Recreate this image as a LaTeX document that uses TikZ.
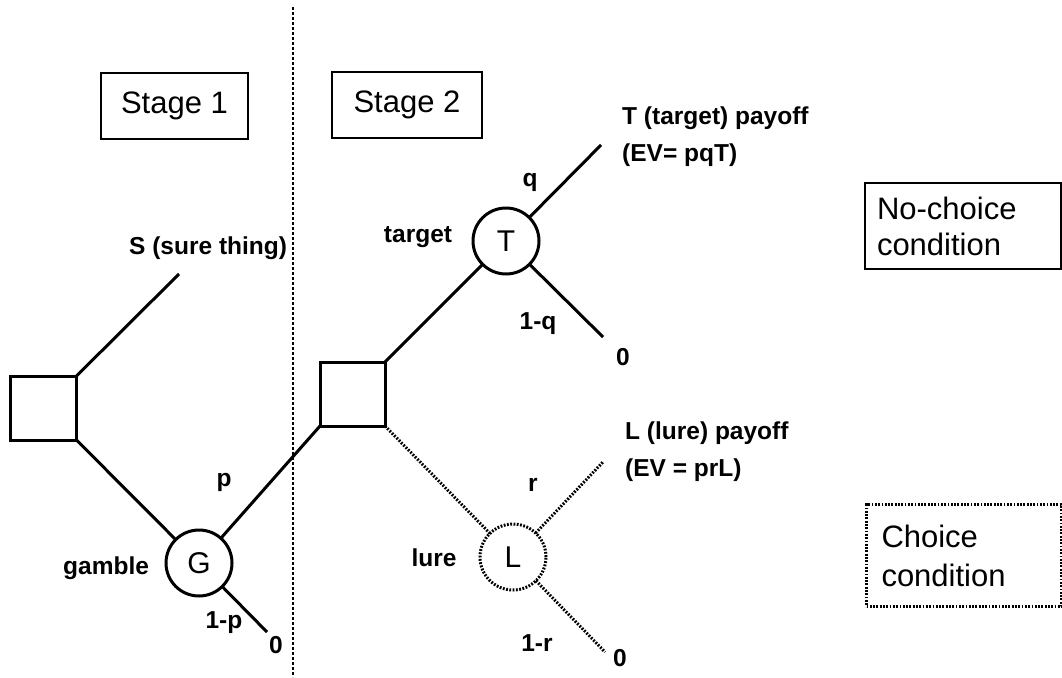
\documentclass[tikz,border=0pt]{standalone}
\usepackage{fontspec}
\setmainfont{Liberation Sans}
\begin{document}
\begin{tikzpicture}[x=1pt,y=-1pt,
  ln/.style={line width=3pt},
  dt/.style={line width=3pt, dash pattern=on 1.8pt off 1.5pt},
  sq/.style={draw, ln, minimum width=66pt, minimum height=64pt, inner sep=0pt, outer sep=0pt},
  cir/.style={draw, circle, minimum size=66pt, inner sep=0pt, outer sep=0pt, font=\fontsize{30}{32}\selectfont},
  lbl/.style={font=\fontsize{24.5}{26}\selectfont\bfseries, inner sep=0pt},
  stagebox/.style={draw, line width=2pt, font=\fontsize{31}{37}\selectfont, inner sep=0pt, minimum height=66pt},
  condbox/.style={line width=2pt, font=\fontsize{31}{37}\selectfont, text width=172pt, align=left, inner xsep=12pt, inner ysep=0pt, anchor=north west},
]
\useasboundingbox (0,0) rectangle (1062,677);

% divider
\coordinate (divtop) at (293,7);
\coordinate (divbot) at (293,677);
\draw[line width=2.4pt, dash pattern=on 3pt off 2pt] (divtop) -- (divbot);

% stage boxes
\node[stagebox, minimum width=147pt] (stage1) at (174.5,106) {Stage 1};
\node[stagebox, minimum width=150pt] (stage2) at (407,105) {Stage 2};

% condition boxes
\node[condbox, draw, minimum height=86pt] (nochoice) at (864,182) {No-choice\\[-1pt]condition};
\node[condbox, draw, dt, minimum height=102pt, inner xsep=15pt, text width=165pt] (choice) at (865,503) {Choice\\[2pt]condition};

% decision nodes
\node[sq] (sq1) at (43.5,408) {};
\node[sq, minimum width=65pt] (sq2) at (352.5,394) {};
\node[cir, ln] (G) at (199,563) {G};
\node[cir, ln] (T) at (506,241) {T};
\node[cir, dt] (L) at (513,557) {L};

% free ends
\coordinate (sEnd) at (179,274);
\coordinate (gZero) at (267,632);
\coordinate (tEnd) at (601,145);
\coordinate (tZero) at (603,337);
\coordinate (lEnd) at (603,462);
\coordinate (lZero) at (605,652);

% connectors
\draw[ln] (sq1.north east) -- (sEnd);
\draw[ln] (sq1.south east) -- (G);
\draw[ln] (G) -- (sq2.south west);
\draw[ln] (G) -- (gZero);
\draw[ln] (sq2.north east) -- (T);
\draw[ln] (T) -- (tEnd);
\draw[ln] (T) -- (tZero);
\draw[dt] (sq2.south east) -- (L);
\draw[dt] (L) -- (lEnd);
\draw[dt] (L) -- (lZero);

% labels
\node[lbl, anchor=west] (sLbl) at (129,248) {S (sure thing)};
\node[lbl, anchor=west] (gLbl) at (63,568) {gamble};
\node[lbl] (pLbl) at (224,482) {p};
\node[lbl] (npLbl) at (224,623) {1-p};
\node[lbl] (gZ) at (276,645) {0};
\node[lbl] (tLbl) at (418,237) {target};
\node[lbl] (qLbl) at (530,182) {q};
\node[lbl] (nqLbl) at (538,324) {1-q};
\node[lbl] (tZ) at (623,357) {0};
\node[lbl, anchor=west] (tPay) at (622,118) {T (target) payoff};
\node[lbl, anchor=west] (tEV) at (622,155) {(EV= pqT)};
\node[lbl] (lLbl) at (434,558) {lure};
\node[lbl] (rLbl) at (533,485) {r};
\node[lbl] (nrLbl) at (537,643) {1-r};
\node[lbl] (lZ) at (620,658) {0};
\node[lbl, anchor=west] (lPay) at (625,433) {L (lure) payoff};
\node[lbl, anchor=west] (lEV) at (625,470) {(EV = prL)};
\end{tikzpicture}
\end{document}
